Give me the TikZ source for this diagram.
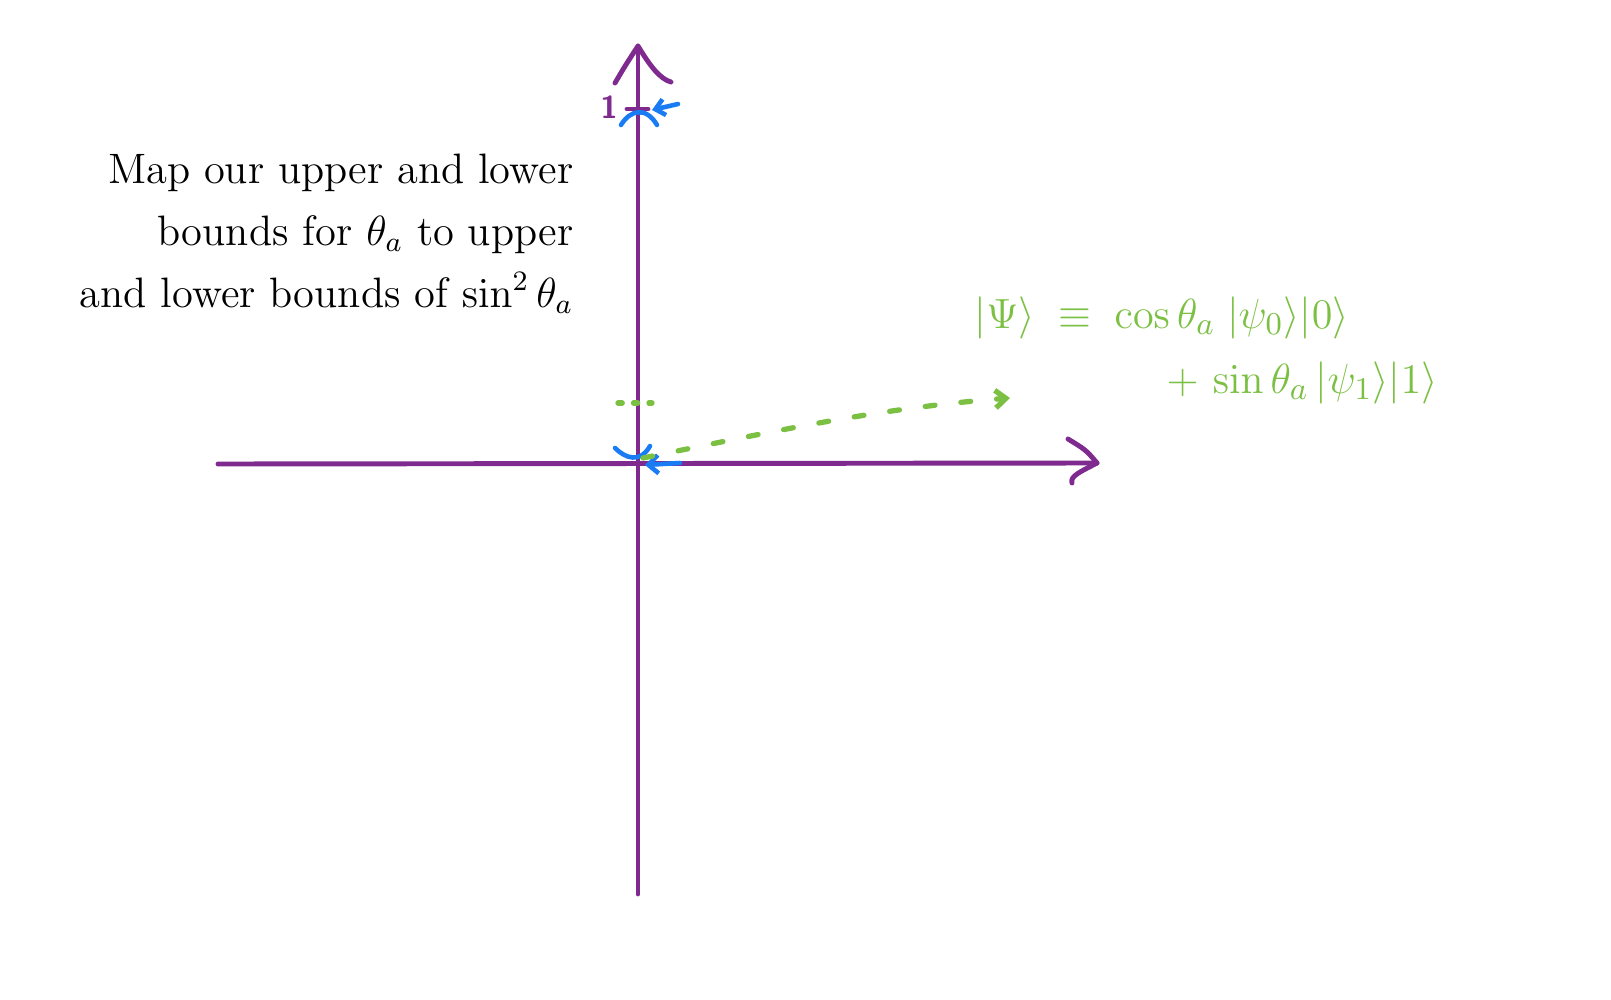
\documentclass[tikz,border=0pt]{standalone}
\usepackage{amsmath,amssymb}
\usepackage{tikz}
\usetikzlibrary{arrows.meta}
\usepackage{xcolor}
\definecolor{AxisPurple}{HTML}{7E2A8E}
\definecolor{MarkBlue}{HTML}{1A7CF5}
\definecolor{NoteGreen}{HTML}{7BC043}

\begin{document}
\begin{tikzpicture}[x=0.01cm,y=-0.01cm,
  axis/.style={AxisPurple,line width=1.4pt,line cap=round,line join=round},
  bluestroke/.style={MarkBlue,line width=1.3pt,line cap=round},
  greendash/.style={NoteGreen,line width=1.5pt,line cap=round,dash pattern=on 2.8pt off 7.4pt}]
\useasboundingbox (0,0) rectangle (1611,1000);
% axes
\coordinate (xl) at (218,464);
\coordinate (xr) at (1097,463);
\coordinate (yt) at (638,46);
\coordinate (yb) at (638,894);
\coordinate (O) at (638,464);
\draw[axis] (xl) -- (xr);
\draw[axis] (yt) -- (yb);
\draw[axis] (1068,439) .. controls (1086,450) .. (xr) .. controls (1080,472) and (1070,476) .. (1072,483);
\draw[axis] (615,83) .. controls (625,66) .. (yt) .. controls (650,66) and (660,79) .. (671,82);
% value 1 on the vertical axis
\draw[axis] (627,109) -- (648,109);
\node[AxisPurple,font=\sffamily\bfseries\small,inner sep=0] (one) at (609,107) {1};
% blue marks
\coordinate (bt) at (652,110);
\coordinate (bo) at (645,465);
\draw[bluestroke] (621,125) .. controls (630,110) and (646,106) .. (657,125);
\draw[bluestroke,-{Straight Barb[length=2.6pt,width=4.6pt]}] (678,104) -- (bt);
\draw[bluestroke] (615,448) .. controls (625,458) and (640,464) .. (650,446);
\draw[bluestroke,-{Straight Barb[length=2.8pt,width=5.2pt]}] (680,463) -- (bo);
% green state vector
\coordinate (gs) at (643,458);
\coordinate (ge) at (1010,398);
\draw[greendash,dash pattern=on 1.2pt off 3.2pt] (618,403) -- (652,403);
\draw[greendash,-{Straight Barb[length=3pt,width=5pt]}] (gs) .. controls (780,430) and (880,408) .. (ge);
\node[NoteGreen,anchor=west,inner sep=0,font=\fontsize{13.2}{15}\selectfont] (psi) at (974,318)
  {$|\Psi\rangle\;\equiv\;\cos\theta_a\;|\psi_0\rangle|0\rangle$};
\node[NoteGreen,anchor=west,inner sep=0,font=\fontsize{13.2}{15}\selectfont] (psib) at (1166,383)
  {$+\,\sin\theta_a\,|\psi_1\rangle|1\rangle$};
% note
\node[anchor=north east,align=right,inner sep=0,font=\fontsize{12.1}{17.6}\selectfont] (note) at (574,153)
  {Map our upper and lower\\bounds for $\theta_a$ to upper\\and lower bounds of $\sin^2\theta_a$};
\end{tikzpicture}
\end{document}
